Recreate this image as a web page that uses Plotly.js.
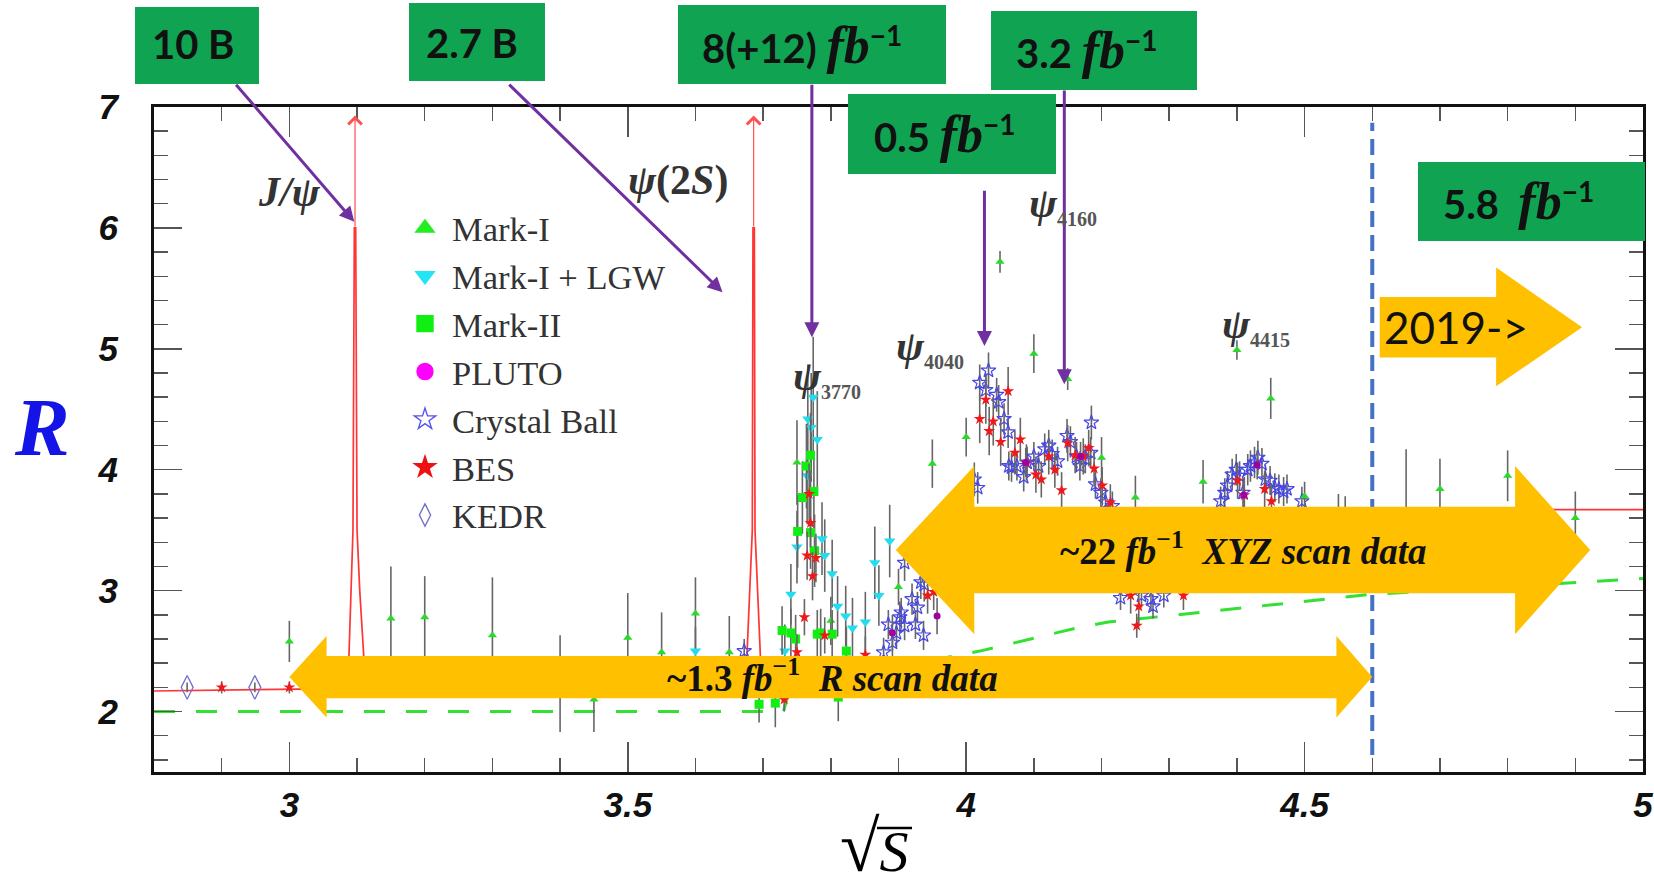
<!DOCTYPE html>
<html>
<head>
<meta charset="utf-8">
<script src="https://cdn.plot.ly/plotly-3.0.1.min.js"></script>
<style>html,body{margin:0;padding:0;background:#fff;} #chart{width:1654px;height:895px;}</style>
</head>
<body>
<div id="chart"></div>
<script>
// ------------------------- DATA -------------------------
// Mark-I
const markIX   = [3.00,3.15,3.20,3.30,3.40,3.45,3.50,3.55,3.60,3.65,3.75,3.80,3.90,3.95,4.00,4.05,4.10,4.15,4.20,4.25,4.35,4.40,4.45,4.50,4.55,4.56,4.65,4.70,4.80,4.90];
const markIY   = [2.58,2.77,2.78,2.63,2.23,2.10,2.61,2.49,2.81,2.49,4.06,2.75,3.03,4.05,4.27,5.72,4.96,4.75,4.10,3.77,3.90,4.99,4.59,3.78,3.55,3.52,3.65,3.84,3.95,3.60];
const markIErr = [0.17,0.43,0.34,0.48,0.40,0.27,0.37,0.33,0.30,0.30,0.35,0.20,0.15,0.20,0.16,0.09,0.16,0.09,0.17,0.18,0.18,0.08,0.17,0.12,0.25,0.26,0.52,0.25,0.21,0.22];
// Mark-I + LGW
const lgwX   = [3.600,3.732,3.741,3.750,3.765,3.766,3.771,3.774,3.780,3.787,3.791,3.802,3.810,3.822,3.832,3.851,3.865,3.871,3.887];
const lgwY   = [2.50,2.50,2.97,3.36,3.95,4.42,4.35,4.60,4.25,3.43,3.29,3.14,2.87,2.79,2.69,2.74,3.23,2.96,3.41];
const lgwErr = [0.20,0.22,0.25,0.30,0.40,0.45,0.45,0.50,0.40,0.30,0.30,0.28,0.25,0.25,0.25,0.25,0.30,0.25,0.30];
// Mark-II
const mk2X   = [3.694,3.718,3.728,3.741,3.748,3.751,3.758,3.764,3.770,3.770,3.775,3.776,3.780,3.785,3.802,3.811,3.823];
const mk2Y   = [2.06,2.07,2.67,2.65,2.60,3.49,3.77,4.03,4.12,3.48,3.82,3.33,2.64,2.65,2.64,2.12,2.50];
const mk2Err = [0.15,0.20,0.20,0.20,0.20,0.30,0.30,0.35,0.35,0.30,0.30,0.30,0.20,0.20,0.20,0.20,0.20];
// PLUTO
const plutoX   = [3.891,3.957,4.088,4.169,4.410,4.430];
const plutoY   = [2.65,2.79,4.06,4.11,3.79,4.04];
const plutoErr = [0.15,0.15,0.12,0.12,0.12,0.12];
// Crystal Ball
const cbX = [3.672,3.878,3.885,3.891,3.897,3.902,3.904,3.909,3.909,3.920,3.925,3.928,3.933,3.937,3.938,
  4.012,4.017,4.020,4.029,4.033,4.045,4.048,4.056,4.062,4.063,4.067,4.075,4.085,4.090,4.100,4.107,4.116,4.122,4.127,4.135,4.149,4.154,4.163,4.168,4.176,4.184,4.185,4.191,4.199,4.206,4.216,
  4.228,4.259,4.273,4.276,4.292,
  4.376,4.382,4.386,4.393,4.399,4.404,4.409,4.416,4.420,4.426,4.431,4.437,4.442,4.449,4.456,4.462,4.469,4.474,4.496];
const cbY = [2.50,2.49,2.72,2.57,2.65,2.78,2.82,2.71,3.23,2.93,2.72,2.86,3.07,2.63,3.05,
  3.92,3.85,4.72,4.66,4.82,4.62,4.56,4.42,4.31,4.03,4.02,4.03,3.94,4.06,4.11,4.03,4.17,4.20,4.13,4.07,4.28,4.23,4.11,4.03,4.09,4.14,4.39,3.88,3.81,3.73,3.70,
  2.94,2.96,2.93,2.87,2.96,
  3.74,3.81,3.87,3.96,4.00,3.95,3.81,4.00,4.03,4.06,4.10,4.05,3.92,3.91,3.85,3.84,3.82,3.84,3.74];
const cbErr = [0.10,0.12,0.12,0.11,0.12,0.13,0.12,0.12,0.15,0.13,0.12,0.13,0.14,0.12,0.14,
  0.14,0.13,0.15,0.14,0.15,0.14,0.14,0.13,0.13,0.12,0.12,0.12,0.12,0.13,0.12,0.12,0.13,0.13,0.12,0.12,0.14,0.13,0.12,0.12,0.12,0.13,0.14,0.12,0.12,0.12,0.12,
  0.10,0.10,0.10,0.10,0.10,
  0.12,0.12,0.12,0.13,0.13,0.12,0.12,0.13,0.13,0.13,0.14,0.13,0.12,0.12,0.12,0.12,0.12,0.12,0.12];
// BES
const besX = [2.900,3.000,3.731,3.750,3.761,3.765,3.768,3.770,3.773,3.778,3.791,3.851,3.943,3.952,
  4.020,4.029,4.034,4.040,4.051,4.062,4.072,4.080,4.089,4.103,4.111,4.122,4.131,4.141,4.150,4.161,4.173,4.181,4.189,4.201,4.213,
  4.243,4.252,4.255,4.321,4.401,4.411,4.441,4.451];
const besY = [2.20,2.20,2.10,2.49,2.78,3.29,3.80,3.56,3.12,3.27,2.63,2.47,2.96,2.99,
  4.42,4.58,4.32,4.40,4.23,4.65,4.14,4.25,4.06,3.96,3.92,4.11,4.00,3.83,4.22,4.12,4.11,4.18,4.01,3.87,3.73,
  2.96,2.71,2.87,2.96,3.91,3.79,3.84,3.74];
const besErr = [0.05,0.05,0.10,0.15,0.15,0.20,0.25,0.20,0.20,0.20,0.15,0.15,0.15,0.15,
  0.20,0.20,0.20,0.20,0.20,0.20,0.18,0.18,0.15,0.15,0.15,0.15,0.15,0.15,0.15,0.15,0.15,0.15,0.15,0.15,0.15,
  0.15,0.10,0.15,0.12,0.15,0.15,0.15,0.15];
// KEDR
const kedrX = [2.849,2.949];
const kedrY = [2.20,2.20];
const kedrErr = [0.04,0.04];
// Theory curve (red) with the J/psi and psi(2S) spikes
const theoryX = [2.80,3.00,3.080,3.088,3.091,3.094,3.096,3.098,3.100,3.104,3.110,3.118,3.20,3.40,3.60,3.668,3.676,3.680,3.684,3.685,3.687,3.688,3.692,3.696,3.704,3.72,null,4.80,5.00];
const theoryY = [2.17,2.18,2.19,2.45,3.00,3.50,6.00,6.00,3.50,3.00,2.45,2.20,2.20,2.20,2.20,2.20,2.45,3.00,3.50,6.00,6.00,3.50,3.00,2.45,2.20,2.20,null,3.67,3.67];
// pQCD-like dashed curve (green)
const pqcdX = [2.80,3.73,3.74,4.02,4.17,4.21,4.60,5.00];
const pqcdY = [2.00,2.00,2.20,2.50,2.70,2.74,2.97,3.10];
// Resonances drawn off scale (arrows)
const resonanceX = [3.097, 3.686];
// Scan boundary
const scanBoundaryX = 4.60;
// Axis tick labels
const xTickVals = [3, 3.5, 4, 4.5, 5];
const yTickVals = [2, 3, 4, 5, 6, 7];

// ------------------------- LAYOUT HELPERS -------------------------
const L = 154, T = 107, PW = 1489, PH = 665;
const px = v => (v - L) / PW;
const py = v => 1 - (v - T) / PH;

const ebar = err => ({type:'data', array: err, visible:true, color:'#666', thickness:1.6, width:0});

const traces = [];
traces.push({x:pqcdX, y:pqcdY, mode:'lines', line:{color:'#33E033', width:3, dash:'21px,21px'}, showlegend:false, hoverinfo:'skip'});
traces.push({x:theoryX, y:theoryY, mode:'lines', line:{color:'#FF3535', width:1.7}, showlegend:false, connectgaps:false, hoverinfo:'skip'});
traces.push({x:cbX, y:cbY, error_y:ebar(cbErr), mode:'markers', marker:{symbol:'star-open', size:11, color:'#4646E6', line:{width:1.2, color:'#4646E6'}}, showlegend:false});
traces.push({x:markIX, y:markIY, error_y:ebar(markIErr), mode:'markers', marker:{symbol:'triangle-up', size:8, color:'#2BD92B'}, showlegend:false});
traces.push({x:lgwX, y:lgwY, error_y:ebar(lgwErr), mode:'markers', marker:{symbol:'triangle-down', size:10, color:'#22DDEE'}, showlegend:false});
traces.push({x:mk2X, y:mk2Y, error_y:ebar(mk2Err), mode:'markers', marker:{symbol:'square', size:9, color:'#11EE11'}, showlegend:false});
traces.push({x:besX, y:besY, error_y:ebar(besErr), mode:'markers', marker:{symbol:'star', size:9, color:'#F01818'}, showlegend:false});
traces.push({x:plutoX, y:plutoY, error_y:ebar(plutoErr), mode:'markers', marker:{symbol:'circle', size:7, color:'#A000A0'}, showlegend:false});
traces.push({x:kedrX, y:kedrY, error_y:ebar(kedrErr), mode:'markers', marker:{symbol:'diamond-tall-open', size:17, color:'#7070CC', line:{width:1.3, color:'#7070CC'}}, showlegend:false});

// legend entries
const legendItems = [
  {name:'Mark-I', symbol:'triangle-up', color:'#22EE22'},
  {name:'Mark-I + LGW', symbol:'triangle-down', color:'#22E5F5'},
  {name:'Mark-II', symbol:'square', color:'#11EE11'},
  {name:'PLUTO', symbol:'circle', color:'#FF00FF'},
  {name:'Crystal Ball', symbol:'star-open', color:'#5555EE'},
  {name:'BES', symbol:'star', color:'#EE1111'},
  {name:'KEDR', symbol:'diamond-tall-open', color:'#7070CC'}
];
legendItems.forEach(it => traces.push({x:[null], y:[null], mode:'markers', name:it.name,
  marker:{symbol:it.symbol, size:16, color:it.color, line:{width:1.4, color:it.color}}, showlegend:true}));

// ------------------------- SHAPES -------------------------
const shapes = [];
shapes.push({type:'line', xref:'x', yref:'y', x0:scanBoundaryX, x1:scanBoundaryX, y0:1.64, y1:6.87,
  line:{color:'#4472C4', width:4, dash:'16px,8px'}, layer:'below'});

function blockArrow(tipL, headL, headR, tipR, bodyLo, bodyHi, headLo, headHi) {
  const mid = (bodyLo + bodyHi) / 2;
  let p;
  if (tipL === null) {
    p = `M${headL},${bodyLo} L${headL},${bodyHi} L${headR},${bodyHi} L${headR},${headHi} L${tipR},${mid} L${headR},${headLo} L${headR},${bodyLo} Z`;
  } else {
    p = `M${tipL},${mid} L${headL},${headHi} L${headL},${bodyHi} L${headR},${bodyHi} L${headR},${headHi} L${tipR},${mid} L${headR},${headLo} L${headR},${bodyLo} L${headL},${bodyLo} L${headL},${headLo} Z`;
  }
  return {type:'path', xref:'x', yref:'y', path:p, fillcolor:'#FFC000', line:{width:0}, layer:'above'};
}
shapes.push(blockArrow(3.0, 3.055, 4.547, 4.60, 2.11, 2.46, 1.95, 2.625));
shapes.push(blockArrow(3.896, 4.012, 4.811, 4.922, 2.978, 3.694, 2.639, 4.031));
shapes.push(blockArrow(null, 4.611, 4.783, 4.910, 4.928, 5.429, 4.69, 5.672));

// vinculum of the square root in the x-axis label
shapes.push({type:'line', xref:'paper', yref:'paper', x0:px(877), x1:px(912), y0:py(828), y1:py(828),
  line:{color:'#000', width:2.5}, layer:'above'});

const FB = '<span style="font-family:Liberation Serif;font-style:italic;font-weight:bold;font-size:52px">fb</span><sup>−1</sup>';
const boxes = [
  {x0:135, x1:259, y0:7, y1:84, text:'10 B', cx:193, cy:44},
  {x0:409, x1:545, y0:3, y1:81, text:'2.7 B', cx:472, cy:43},
  {x0:678, x1:946, y0:5, y1:84, text:'8(+12) ' + FB, cx:802, cy:45},
  {x0:991, x1:1197, y0:11, y1:90, text:'3.2 ' + FB, cx:1086, cy:50},
  {x0:848, x1:1056, y0:94, y1:174, text:'0.5 ' + FB, cx:944, cy:134},
  {x0:1418, x1:1645, y0:162, y1:241, text:'5.8\u00a0 ' + FB, cx:1518, cy:201}
];
boxes.forEach(b => shapes.push({type:'rect', xref:'paper', yref:'paper', x0:px(b.x0), x1:px(b.x1), y0:py(b.y1), y1:py(b.y0),
  fillcolor:'#10A352', line:{width:0}, layer:'above'}));

// ------------------------- ANNOTATIONS -------------------------
const ann = [];
boxes.forEach(b => ann.push({xref:'paper', yref:'paper', x:px(b.cx), y:py(b.cy), text:b.text, showarrow:false,
  xanchor:'center', yanchor:'middle', font:{family:'Lato', size:40, weight:700, color:'#111'}}));

// purple arrows: tip (x,y) and tail (ax,ay) in data units
const purple = [
  {x:3.096, y:6.05, ax:2.9194, ay:7.197},
  {x:3.640, y:5.468, ax:3.3226, ay:7.197},
  {x:3.772, y:5.096, ax:3.772, ay:7.197},
  {x:4.027, y:5.024, ax:4.027, ay:6.32},
  {x:4.145, y:4.707, ax:4.145, ay:7.148}
];
purple.forEach(a => ann.push({xref:'x', yref:'y', axref:'x', ayref:'y', x:a.x, y:a.y, ax:a.ax, ay:a.ay, text:'',
  showarrow:true, arrowhead:2, arrowsize:1.0, arrowwidth:3, arrowcolor:'#7030A0', standoff:0}));

// red off-scale arrows
resonanceX.forEach(x => ann.push({xref:'x', yref:'y', axref:'x', ayref:'y', x:x, y:6.93, ax:x, ay:6.0, text:'',
  showarrow:true, arrowhead:4, arrowsize:2.2, arrowwidth:1.2, arrowcolor:'#FF5050', standoff:0}));

const greek = {family:'Liberation Serif', size:42, weight:700, style:'italic', color:'#333'};
const sub = t => `<sub><span style="font-size:20px;font-style:normal;color:#555">${t}</span></sub>`;
ann.push({xref:'x', yref:'y', x:3.0, y:6.30, text:'J/ψ', showarrow:false, font:greek});
ann.push({xref:'x', yref:'y', x:3.574, y:6.39, text:'<i>ψ</i>(2<i>S</i>)', showarrow:false, font:Object.assign({}, greek, {style:'normal', size:42})});
ann.push({xref:'x', yref:'y', x:3.741, y:4.76, text:'ψ' + sub('3770'), xanchor:'left', showarrow:false, font:greek});
ann.push({xref:'x', yref:'y', x:3.894, y:5.01, text:'ψ' + sub('4040'), xanchor:'left', showarrow:false, font:greek});
ann.push({xref:'x', yref:'y', x:4.090, y:6.19, text:'ψ' + sub('4160'), xanchor:'left', showarrow:false, font:greek});
ann.push({xref:'x', yref:'y', x:4.375, y:5.19, text:'ψ' + sub('4415'), xanchor:'left', showarrow:false, font:greek});

const arrowTextFont = {family:'Liberation Serif', size:37, weight:700, color:'#111'};
ann.push({xref:'x', yref:'y', x:3.803, y:2.30, text:'~1.3 <i>fb</i><sup>−1</sup>\u00a0\u00a0<i>R scan data</i>', showarrow:false, font:arrowTextFont});
ann.push({xref:'x', yref:'y', x:4.41, y:3.35, text:'~22 <i>fb</i><sup>−1</sup>\u00a0\u00a0<i>XYZ scan data</i>', showarrow:false, font:arrowTextFont});
ann.push({xref:'x', yref:'y', x:4.723, y:5.18, text:'2019->', showarrow:false, font:{family:'Lato', size:44, color:'#111'}});

ann.push({xref:'paper', yref:'paper', x:px(42), y:py(427), xanchor:'center', yanchor:'middle', text:'R', showarrow:false,
  font:{family:'Liberation Serif', size:82, weight:700, style:'italic', color:'#1414E6'}});
ann.push({xref:'paper', yref:'paper', x:px(874), y:py(847), xanchor:'center', yanchor:'middle',
  text:'<span style="font-size:72px">√</span><i>S</i>', showarrow:false,
  font:{family:'Liberation Serif', size:58, color:'#000'}});

// ------------------------- LAYOUT -------------------------
const tickFont = {family:'Liberation Sans', size:35, weight:700, style:'italic', color:'#111'};
const layout = {
  width:1654, height:895,
  margin:{l:L, r:11, t:T, b:123},
  paper_bgcolor:'#fff', plot_bgcolor:'#fff',
  showlegend:true,
  legend:{x:px(398), y:py(199), xanchor:'left', yanchor:'top', bgcolor:'rgba(0,0,0,0)', borderwidth:0,
    itemwidth:44, font:{family:'Liberation Serif', size:34.5, color:'#333'}},
  xaxis:{range:[2.8, 5.0], tickvals:xTickVals, ticktext:xTickVals.map(String), ticks:'inside', ticklen:30, tickwidth:1.5, tickcolor:'#555',
    showline:true, linewidth:3, linecolor:'#111', mirror:'ticks', showgrid:false, zeroline:false,
    tickfont:tickFont, ticklabelstandoff:0, ticklabeloverflow:'allow',
    minor:{dtick:0.1, tick0:2.8, ticks:'inside', ticklen:14, tickwidth:1.5, tickcolor:'#555'}},
  yaxis:{range:[1.5, 7.0], tickvals:yTickVals, ticktext:yTickVals.map(String), ticks:'inside', ticklen:28, tickwidth:1.5, tickcolor:'#555',
    showline:true, linewidth:3, linecolor:'#111', mirror:'ticks', showgrid:false, zeroline:false,
    tickfont:tickFont, ticklabelstandoff:26,
    minor:{dtick:0.2, tick0:1.6, ticks:'inside', ticklen:14, tickwidth:1.5, tickcolor:'#555'}},
  shapes:shapes,
  annotations:ann
};

Plotly.newPlot('chart', traces, layout, {staticPlot:true, displayModeBar:false});
</script>
</body>
</html>
